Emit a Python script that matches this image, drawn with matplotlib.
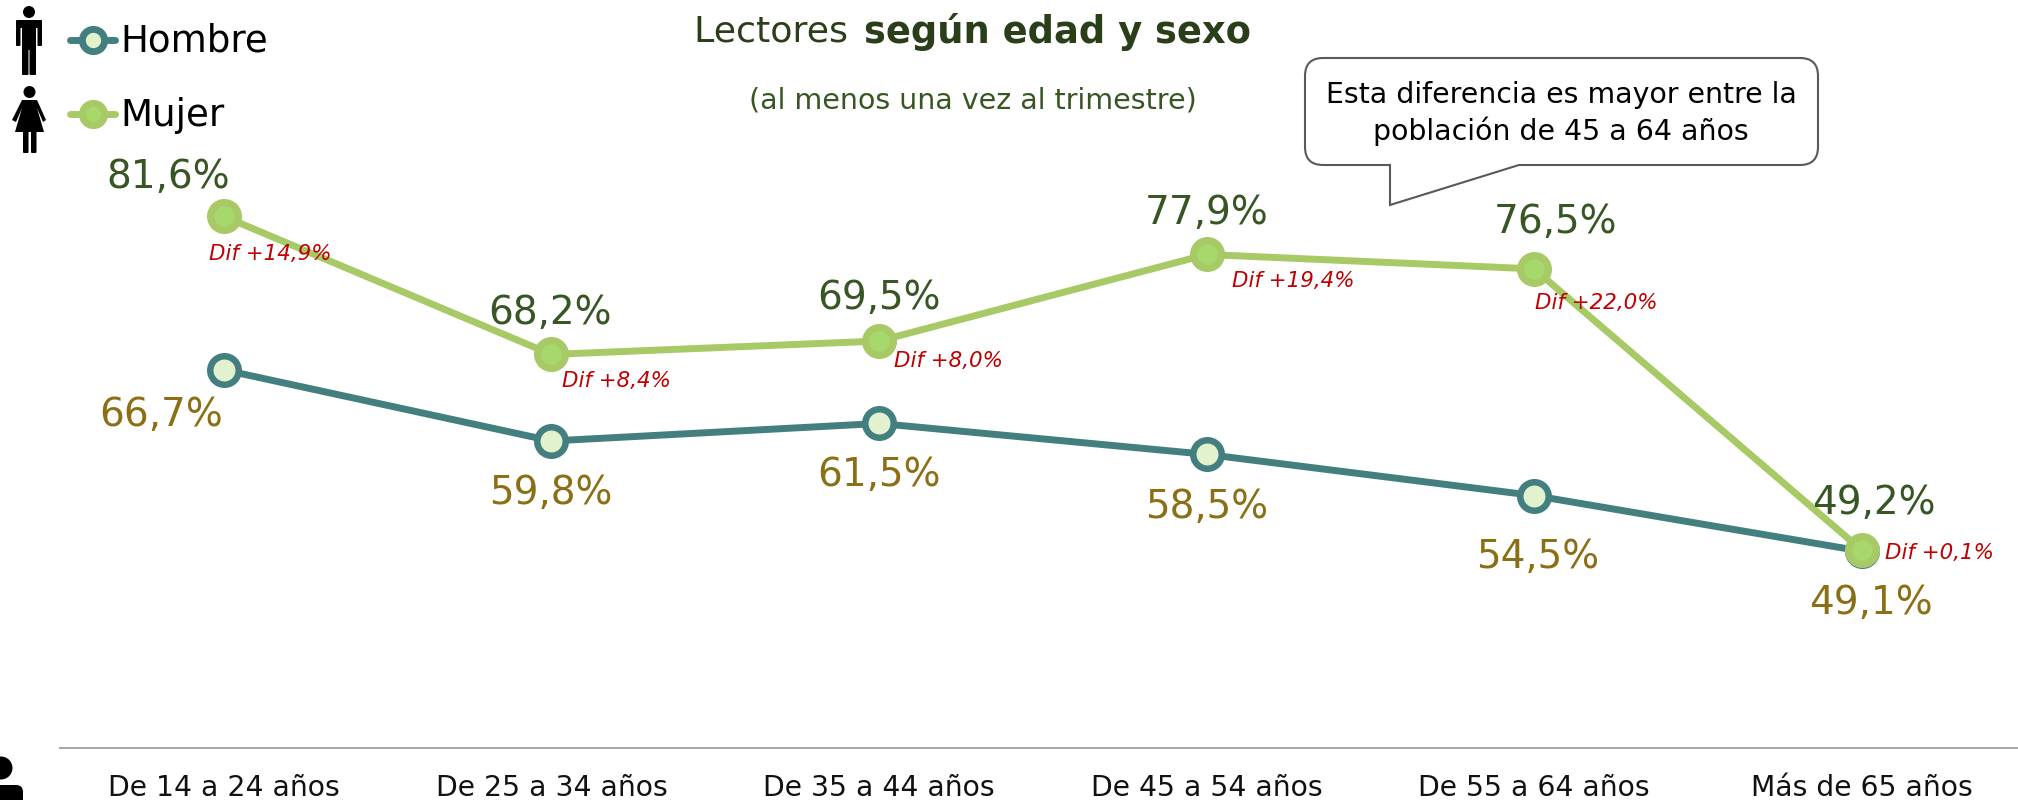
import matplotlib
matplotlib.use('Agg')
import matplotlib.pyplot as plt
from matplotlib.patches import Circle, FancyBboxPatch, PathPatch, Polygon
from matplotlib.path import Path

categories = ['De 14 a 24 años', 'De 25 a 34 años', 'De 35 a 44 años',
              'De 45 a 54 años', 'De 55 a 64 años', 'Más de 65 años']
hombre = [66.7, 59.8, 61.5, 58.5, 54.5, 49.1]
mujer = [81.6, 68.2, 69.5, 77.9, 76.5, 49.2]
hombre_labels = ['66,7%', '59,8%', '61,5%', '58,5%', '54,5%', '49,1%']
mujer_labels = ['81,6%', '68,2%', '69,5%', '77,9%', '76,5%', '49,2%']
dif_labels = ['Dif +14,9%', 'Dif +8,4%', 'Dif +8,0%', 'Dif +19,4%', 'Dif +22,0%', 'Dif +0,1%']

# label offsets from the points, in pixels
hombre_off = [(-63, -45), (-1, -52), (0, -52), (0, -53), (3, -61), (9, -52)]
mujer_off = [(-56, 39), (-1, 41), (0, 43), (0, 41), (21, 47), (12, 47)]
dif_off = [(-15, -38), (11, -27), (15, -20), (25, -27), (1, -34), (23, -3)]

C_HOMBRE = '#447F80'
C_HOMBRE_IN = '#E2F2CF'
C_MUJER = '#A8CA66'
C_MUJER_IN = '#A6D86C'
C_TXT_MUJER = '#375623'
C_TXT_HOMBRE = '#8B6F14'
C_DIF = '#C00000'
PX = 0.72

plt.rcParams['font.family'] = 'DejaVu Sans'

fig = plt.figure(figsize=(20.18, 8), dpi=100, facecolor='white')
ax = fig.add_axes([60 / 2018, 52 / 800, 1958 / 2018, 748 / 800])
ax.set_xlim(-0.5, -0.5 + 1958 / 327.6)
ax.set_ylim(30, 102.6)
ax.patch.set_alpha(0)
for s in ['top', 'left', 'right']:
    ax.spines[s].set_visible(False)
ax.spines['bottom'].set_color('#A6A6A6')
ax.spines['bottom'].set_linewidth(1.4)
ax.set_yticks([])
x = list(range(len(categories)))
ax.set_xticks(x)
ax.set_xticklabels(categories, fontsize=20.3, color='#111111')
ax.tick_params(axis='x', length=0, pad=18.5)

ax.plot(x, hombre, color=C_HOMBRE, lw=5, marker='o', ms=20.5, mew=4.7,
        mec=C_HOMBRE, mfc=C_HOMBRE_IN, clip_on=False, zorder=3)
ax.plot(x, mujer, color=C_MUJER, lw=5, marker='o', ms=20, mew=5.2,
        mec=C_MUJER, mfc=C_MUJER_IN, clip_on=False, zorder=4)

for i in x:
    ax.annotate(hombre_labels[i], (i, hombre[i]), xytext=(hombre_off[i][0] * PX, hombre_off[i][1] * PX),
                textcoords='offset points', ha='center', va='center', fontsize=28, color=C_TXT_HOMBRE, zorder=5)
    ax.annotate(mujer_labels[i], (i, mujer[i]), xytext=(mujer_off[i][0] * PX, mujer_off[i][1] * PX),
                textcoords='offset points', ha='center', va='center', fontsize=28, color=C_TXT_MUJER, zorder=5)
    ax.annotate(dif_labels[i], (i, mujer[i]), xytext=(dif_off[i][0] * PX, dif_off[i][1] * PX),
                textcoords='offset points', ha='left', va='center', fontsize=15.4, style='italic',
                color=C_DIF, zorder=6)

# overlay in pixel coordinates for title, legend, icons and callout
ov = fig.add_axes([0, 0, 1, 1])
ov.set_xlim(0, 2018)
ov.set_ylim(800, 0)
ov.axis('off')
ov.patch.set_alpha(0)

t1 = ov.text(694, 32, 'Lectores ', fontsize=26.2, color='#2B3E1A', va='center', ha='left')
ov.annotate('según edad y sexo', xy=(1, 0.5), xycoords=t1, xytext=(3, 0), textcoords='offset points',
            fontsize=26.6, fontweight='bold', color='#2B3E1A', va='center', ha='left')
ov.text(973, 100, '(al menos una vez al trimestre)', fontsize=20.5, color=C_TXT_MUJER, ha='center', va='center')

# legend
for y0, col, inner, name in [(40, C_HOMBRE, C_HOMBRE_IN, 'Hombre'), (114, C_MUJER, C_MUJER_IN, 'Mujer')]:
    ov.plot([70, 115], [y0, y0], color=col, lw=5, solid_capstyle='round')
    ov.plot([93], [y0], marker='o', ms=16, mew=5, mec=col, mfc=inner)
    ov.text(120, y0 + 1, name, fontsize=26.8, color='black', ha='left', va='center')

# man icon
ov.add_patch(Circle((29, 12), 6, color='black', lw=0))
for bx, by, bw, bh in [(16, 20, 26, 8), (16, 21, 4.5, 25), (37.5, 21, 4.5, 25), (22, 20, 14, 30),
                       (22, 44, 6.5, 31), (29.5, 44, 6.5, 31)]:
    ov.add_patch(FancyBboxPatch((bx + 1, by + 1), bw - 2, bh - 2, boxstyle='round,pad=1', color='black', lw=0))
# woman icon
ov.add_patch(Circle((29.5, 92), 6, color='black', lw=0))
ov.add_patch(Polygon([(22, 100), (37, 100), (46, 120), (43, 122), (37, 108), (44, 132), (15, 132),
                      (22, 108), (16, 122), (12, 120)], closed=True, color='black', lw=0))
for bx in (23, 31):
    ov.add_patch(FancyBboxPatch((bx + 1, 129), 3.5, 23, boxstyle='round,pad=1', color='black', lw=0))
# cropped person icon at the bottom left
ov.add_patch(Circle((1, 768), 11.5, color='black', lw=0))
ov.add_patch(FancyBboxPatch((-20, 792), 36, 30, boxstyle='round,pad=7', color='black', lw=0))

# callout
l, r, t, b, c = 1305, 1818, 58, 165, 18
verts = [(l + c, t), (r - c, t), (r, t), (r, t + c), (r, b - c), (r, b), (r - c, b),
         (1519, b), (1390, 205), (1390, b), (l + c, b), (l, b), (l, b - c),
         (l, t + c), (l, t), (l + c, t), (l + c, t)]
codes = [Path.MOVETO, Path.LINETO, Path.CURVE3, Path.CURVE3, Path.LINETO, Path.CURVE3, Path.CURVE3,
         Path.LINETO, Path.LINETO, Path.LINETO, Path.LINETO, Path.CURVE3, Path.CURVE3,
         Path.LINETO, Path.CURVE3, Path.CURVE3, Path.CLOSEPOLY]
ov.add_patch(PathPatch(Path(verts, codes), fc='white', ec='#595959', lw=1.5))
ov.text(1561, 95, 'Esta diferencia es mayor entre la', fontsize=20.4, color='black', ha='center', va='center')
ov.text(1561, 131, 'población de 45 a 64 años', fontsize=20.4, color='black', ha='center', va='center')

fig.savefig('out.png', dpi=100)
